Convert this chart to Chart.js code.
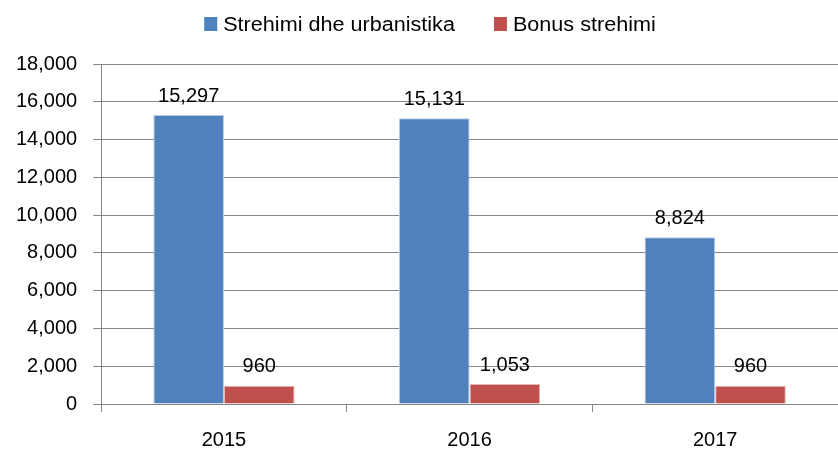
<!DOCTYPE html>
<html>
<head>
<meta charset="utf-8">
<script src="https://cdn.jsdelivr.net/npm/chart.js@4.4.0/dist/chart.umd.min.js"></script>
<style>
  body { margin: 0; background: #fff; }
  #wrap { width: 838px; height: 450px; }
</style>
</head>
<body>
<div id="wrap"><canvas id="grafico" width="838" height="450"></canvas></div>
<script>
const anios = ["2015", "2016", "2017"];
const strehimiUrbanistika = [15297, 15131, 8824];
const bonusStrehimi = [960, 1053, 960];
const nombresSeries = ["Strehimi dhe urbanistika", "Bonus strehimi"];
const colores = ['#4F81BD', '#C0504D'];

const fuente = "'Liberation Sans', Arial, sans-serif";

// etiquetas de valor encima de cada barra
const etiquetas = {
    id: 'etiquetas',
    afterDatasetsDraw(chart) {
        const ctx = chart.ctx;
        ctx.save();
        ctx.font = "20px " + fuente;
        ctx.fillStyle = "#000";
        ctx.textAlign = "center";
        ctx.textBaseline = "bottom";
        chart.data.datasets.forEach((ds, i) => {
            chart.getDatasetMeta(i).data.forEach((bar, j) => {
                ctx.fillText(ds.data[j].toLocaleString('en-US'), bar.x, bar.y - 9);
            });
        });
        ctx.restore();
    }
};

// leyenda dibujada a mano para ajustar el ancho del texto
const leyenda = {
    id: 'leyenda',
    afterDraw(chart) {
        const ctx = chart.ctx;
        const escala = 1.08;
        ctx.save();
        ctx.font = "20px " + fuente;
        const anchos = nombresSeries.map(t => ctx.measureText(t).width * escala);
        const total = anchos.reduce((a, w) => a + 19 + w, 0) + 39 * (nombresSeries.length - 1);
        let x = chart.width / 2 + 11 - total / 2;
        nombresSeries.forEach((t, i) => {
            ctx.fillStyle = colores[i];
            ctx.fillRect(x, 17, 13, 14);
            ctx.fillStyle = '#000';
            ctx.textBaseline = 'middle';
            ctx.save();
            ctx.translate(x + 19, 25);
            ctx.scale(escala, 1);
            ctx.fillText(t, 0, 0);
            ctx.restore();
            x += 19 + anchos[i] + 39;
        });
        ctx.restore();
    }
};

new Chart(document.getElementById('grafico').getContext('2d'), {
    type: 'bar',
    data: {
        labels: anios,
        datasets: [{
            label: nombresSeries[0],
            data: strehimiUrbanistika,
            backgroundColor: colores[0],
            borderColor: '#B9CDE5',
            borderWidth: 1
        }, {
            label: nombresSeries[1],
            data: bonusStrehimi,
            backgroundColor: colores[1],
            borderColor: '#E6B9B8',
            borderWidth: 1
        }]
    },
    options: {
        responsive: false,
        animation: false,
        layout: { padding: { left: 0, right: 0, top: 64, bottom: -18 } },
        datasets: { bar: { barPercentage: 1, categoryPercentage: 0.575 } },
        plugins: {
            legend: { display: false },
            tooltip: { enabled: false }
        },
        scales: {
            x: {
                grid: { drawOnChartArea: false, tickLength: 8, color: '#868686' },
                border: { color: '#868686' },
                ticks: { color: '#000', padding: 16, font: { family: fuente, size: 20 } }
            },
            y: {
                min: 0,
                max: 18000,
                ticks: {
                    stepSize: 2000,
                    color: '#000',
                    padding: 16,
                    font: { family: fuente, size: 20 },
                    callback: v => v.toLocaleString('en-US')
                },
                grid: { color: '#868686', tickLength: 8 },
                border: { color: '#868686' }
            }
        }
    },
    plugins: [etiquetas, leyenda]
});
</script>
</body>
</html>
